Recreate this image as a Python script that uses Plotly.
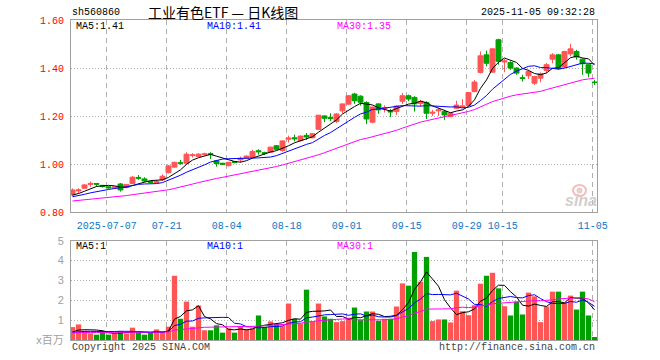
import plotly.graph_objects as go
import pandas as pd

# ---------------- data ----------------
tick_idx = [6, 16, 26, 36, 46, 56, 66, 72, 87]
tick_labels = ["2025-07-07", "07-21", "08-04", "08-18", "09-01", "09-15", "09-29", "10-15", "11-05"]

# closes before the visible window (inferred from where the MA lines start)
prior_close = [0.826, 0.829, 0.831, 0.830, 0.833, 0.835, 0.834, 0.836, 0.838, 0.837,
               0.839, 0.841, 0.840, 0.842, 0.844, 0.843, 0.845, 0.847, 0.846, 0.848,
               0.852, 0.855, 0.858, 0.860, 0.862, 0.864, 0.866, 0.868, 0.870]
prior_vol = [0.38, 0.32, 0.41, 0.29, 0.35, 0.44, 0.31, 0.36, 0.33, 0.40,
             0.30, 0.37, 0.34, 0.42, 0.31, 0.35, 0.39, 0.28, 0.36, 0.33,
             0.41, 0.34, 0.30, 0.38, 0.35, 0.32, 0.37, 0.33, 0.36]

opens = [0.872, 0.889, 0.900, 0.916, 0.920, 0.912, 0.906, 0.901, 0.918, 0.903,
         0.920, 0.945, 0.939, 0.928, 0.924, 0.935, 0.965, 0.988, 1.006, 1.004,
         1.036, 1.032, 1.040, 1.044, 1.014, 1.004, 0.994, 1.010, 1.018, 1.026,
         1.028, 1.056, 1.048, 1.050, 1.077, 1.057, 1.104, 1.110, 1.098, 1.120,
         1.110, 1.145, 1.201, 1.194, 1.178, 1.222, 1.250, 1.292, 1.283, 1.257,
         1.175, 1.251, 1.230, 1.222, 1.219, 1.262, 1.285, 1.278, 1.253, 1.257,
         1.212, 1.222, 1.219, 1.198, 1.233, 1.238, 1.244, 1.302, 1.382, 1.455,
         1.383, 1.518, 1.425, 1.423, 1.400, 1.360, 1.368, 1.337, 1.358, 1.390,
         1.437, 1.455, 1.404, 1.459, 1.469, 1.437, 1.414, 1.342]
highs = [0.899, 0.900, 0.918, 0.928, 0.921, 0.914, 0.908, 0.908, 0.922, 0.918,
         0.951, 0.955, 0.946, 0.932, 0.935, 0.958, 0.997, 1.010, 1.018, 1.050,
         1.046, 1.046, 1.048, 1.050, 1.018, 1.006, 1.010, 1.012, 1.032, 1.036,
         1.060, 1.062, 1.052, 1.073, 1.080, 1.099, 1.119, 1.123, 1.120, 1.130,
         1.130, 1.205, 1.203, 1.212, 1.212, 1.252, 1.287, 1.297, 1.287, 1.262,
         1.240, 1.253, 1.245, 1.230, 1.246, 1.296, 1.290, 1.283, 1.268, 1.262,
         1.226, 1.235, 1.226, 1.216, 1.264, 1.271, 1.300, 1.350, 1.469, 1.473,
         1.482, 1.522, 1.438, 1.428, 1.403, 1.372, 1.393, 1.368, 1.382, 1.421,
         1.462, 1.458, 1.472, 1.501, 1.476, 1.440, 1.418, 1.351]
lows = [0.866, 0.878, 0.898, 0.906, 0.906, 0.903, 0.898, 0.897, 0.886, 0.900,
        0.917, 0.935, 0.925, 0.921, 0.920, 0.930, 0.962, 0.985, 0.998, 1.000,
        1.028, 1.030, 1.036, 1.022, 0.990, 0.998, 0.991, 1.004, 1.006, 1.024,
        1.025, 1.040, 1.038, 1.048, 1.058, 1.052, 1.090, 1.095, 1.095, 1.101,
        1.108, 1.142, 1.175, 1.180, 1.172, 1.212, 1.247, 1.251, 1.244, 1.167,
        1.170, 1.210, 1.215, 1.196, 1.205, 1.251, 1.262, 1.219, 1.240, 1.188,
        1.201, 1.201, 1.185, 1.196, 1.230, 1.236, 1.240, 1.300, 1.378, 1.407,
        1.381, 1.414, 1.383, 1.393, 1.372, 1.344, 1.355, 1.330, 1.341, 1.379,
        1.420, 1.393, 1.400, 1.449, 1.435, 1.372, 1.362, 1.330]
closes = [0.893, 0.893, 0.914, 0.920, 0.917, 0.907, 0.902, 0.905, 0.893, 0.916,
          0.946, 0.942, 0.930, 0.925, 0.928, 0.950, 0.993, 1.008, 1.004, 1.042,
          1.039, 1.042, 1.043, 1.040, 1.003, 1.000, 1.008, 1.007, 1.025, 1.034,
          1.053, 1.052, 1.045, 1.071, 1.062, 1.097, 1.109, 1.106, 1.117, 1.113,
          1.127, 1.204, 1.191, 1.190, 1.209, 1.251, 1.285, 1.264, 1.258, 1.188,
          1.238, 1.226, 1.235, 1.218, 1.242, 1.285, 1.271, 1.251, 1.262, 1.212,
          1.216, 1.226, 1.205, 1.212, 1.246, 1.242, 1.298, 1.342, 1.451, 1.420,
          1.480, 1.428, 1.430, 1.400, 1.379, 1.357, 1.386, 1.365, 1.376, 1.414,
          1.455, 1.397, 1.469, 1.480, 1.446, 1.418, 1.379, 1.340]
# volume, in millions
volumes = [0.65, 0.785, 0.47, 0.335, 0.27, 0.47, 0.27, 0.335, 0.45, 0.33,
           0.62, 0.37, 0.27, 0.37, 0.535, 0.435, 0.67, 3.235, 1.07, 1.935,
           0.67, 1.735, 0.49, 0.49, 0.74, 0.37, 0.585, 0.37, 0.70, 0.535,
           0.585, 1.235, 0.67, 0.935, 0.80, 0.70, 1.835, 1.07, 0.835, 2.535,
           0.935, 1.835, 1.185, 1.07, 0.90, 0.95, 1.12, 1.635, 1.00, 1.435,
           1.435, 0.965, 1.07, 1.07, 1.685, 2.85, 2.735, 4.435, 2.935, 4.185,
           0.95, 1.035, 1.035, 0.885, 2.485, 1.45, 1.25, 1.75, 2.835, 3.235,
           3.385, 2.60, 1.70, 1.235, 1.935, 1.285, 2.385, 2.20, 0.90, 1.685,
           2.435, 2.435, 1.90, 2.235, 1.535, 2.435, 1.235, 0.15]

price_ticks = [0.8, 1.0, 1.2, 1.4, 1.6]
vol_ticks = [0, 1, 2, 3, 4, 5]
vol_tick_text = ["x百万", "1", "2", "3", "4", "5"]

# ---------------- derived ----------------
n = len(closes)
idx = list(range(n))
allc = pd.Series(prior_close + closes)
allv = pd.Series(prior_vol + volumes)
np_ = len(prior_close)
ma5 = allc.rolling(5).mean().iloc[np_:].tolist()
ma10 = allc.rolling(10).mean().iloc[np_:].tolist()
ma30 = allc.rolling(30).mean().iloc[np_:].tolist()
vma5 = allv.rolling(5).mean().iloc[np_:].tolist()
vma10 = allv.rolling(10).mean().iloc[np_:].tolist()
vma30 = allv.rolling(30).mean().iloc[np_:].tolist()

RED = "#ff5555"
GREEN = "#00a000"
vol_colors = [RED if c >= o else GREEN for o, c in zip(opens, closes)]

# body margin is removed by a post script, so figure pixels == screen pixels
W, H = 660, 360
L = 71
T = 20
B = H - 340
R = W - 597
PW, PH = W - L - R, H - T - B


def pxx(x):
    return (x - L) / PW


def pyy(y):
    return (H - B - y) / PH


fig = go.Figure()
fig.add_trace(go.Candlestick(
    x=idx, open=opens, high=highs, low=lows, close=closes,
    increasing=dict(line=dict(color=RED, width=1), fillcolor=RED),
    decreasing=dict(line=dict(color=GREEN, width=1), fillcolor=GREEN),
    whiskerwidth=0, xaxis="x", yaxis="y", showlegend=False, hoverinfo="skip"))
for ser, col in [(ma5, "#000000"), (ma10, "#0000ff"), (ma30, "#ff00ff")]:
    fig.add_trace(go.Scatter(x=idx, y=ser, mode="lines", line=dict(color=col, width=1),
                             xaxis="x", yaxis="y", showlegend=False, hoverinfo="skip"))

fig.add_trace(go.Bar(x=idx, y=volumes, marker=dict(color=vol_colors, line=dict(width=0)),
                     width=0.88, xaxis="x2", yaxis="y2", showlegend=False, hoverinfo="skip"))
for ser, col in [(vma5, "#000000"), (vma10, "#0000ff"), (vma30, "#ff00ff")]:
    fig.add_trace(go.Scatter(x=idx, y=ser, mode="lines", line=dict(color=col, width=1),
                             xaxis="x2", yaxis="y2", showlegend=False, hoverinfo="skip"))

grid_x = [i - 0.3 for i in tick_idx]
xr = [-0.25, -0.25 + PW / 6.0]
mono = "Liberation Mono, DejaVu Sans Mono, monospace"

common_x = dict(range=xr, tickvals=grid_x, showgrid=True, gridcolor="#b0b0b0",
                griddash="5px,4px", gridwidth=1, showline=True, mirror=True,
                linecolor="#a0a0a0", linewidth=1, zeroline=False, ticks="",
                fixedrange=True, automargin=False)
fig.update_layout(
    width=W, height=H, margin=dict(l=L, r=R, t=T, b=B, autoexpand=False),
    paper_bgcolor="white", plot_bgcolor="white",
    boxgap=0.18, boxgroupgap=0, bargap=0.12,
    xaxis=dict(**common_x, domain=[0, 1], anchor="y", ticktext=tick_labels,
               tickfont=dict(family=mono, size=10, color="#0a78c8"),
               ticklabelstandoff=4, rangeslider=dict(visible=False)),
    xaxis2=dict(**common_x, domain=[0, 1], anchor="y2", matches="x", showticklabels=False),
    yaxis=dict(domain=[pyy(212.3), 1.0], range=[0.8, 1.6], tickvals=price_ticks,
               tickformat=".2f", showgrid=True, gridcolor="#b0b0b0", griddash="1px,2px",
               showline=True, mirror=True, linecolor="#a0a0a0", zeroline=False,
               ticks="", tickfont=dict(family=mono, size=10, color="#ff0000"),
               ticklabelstandoff=4, fixedrange=True, automargin=False),
    yaxis2=dict(domain=[0, pyy(240.7)], range=[0, 5], tickvals=vol_ticks,
                ticktext=vol_tick_text, showgrid=True, gridcolor="#b0b0b0",
                griddash="1px,2px", showline=True, mirror=True, linecolor="#a0a0a0",
                zeroline=False, ticks="",
                tickfont=dict(family="Liberation Sans, Noto Sans CJK SC", size=11, color="#a0a0a0"),
                ticklabelstandoff=4, fixedrange=True, automargin=False),
)

anns = [
    dict(text="sh560860", x=pxx(70), y=pyy(12), xanchor="left",
         font=dict(family=mono, size=10, color="#000")),
    dict(text="工业有色ETF — 日K线图", x=pxx(223), y=pyy(12), xanchor="center",
         font=dict(family="Noto Sans CJK SC", size=14, color="#000")),
    dict(text="2025-11-05 09:32:28", x=pxx(597), y=pyy(12), xanchor="right",
         font=dict(family=mono, size=10, color="#000")),
    dict(text="MA5:1.41", x=pxx(74), y=pyy(27), xanchor="left",
         font=dict(family=mono, size=10, color="#000")),
    dict(text="MA10:1.41", x=pxx(205), y=pyy(27), xanchor="left",
         font=dict(family=mono, size=10, color="#0000ff")),
    dict(text="MA30:1.35", x=pxx(335), y=pyy(27), xanchor="left",
         font=dict(family=mono, size=10, color="#ff00ff")),
    dict(text="MA5:1", x=pxx(74), y=pyy(246), xanchor="left",
         font=dict(family=mono, size=10, color="#000")),
    dict(text="MA10:1", x=pxx(205), y=pyy(246), xanchor="left",
         font=dict(family=mono, size=10, color="#0000ff")),
    dict(text="MA30:1", x=pxx(335), y=pyy(246), xanchor="left",
         font=dict(family=mono, size=10, color="#ff00ff")),
    dict(text="Copyright 2025 SINA.COM", x=pxx(70), y=pyy(347), xanchor="left",
         font=dict(family=mono, size=10, color="#444")),
    dict(text="http://finance.sina.com.cn", x=pxx(597), y=pyy(347), xanchor="right",
         font=dict(family=mono, size=10, color="#444")),
    dict(text="<b><i>sina</i></b>", x=pxx(581), y=pyy(200), xanchor="center",
         font=dict(family="Liberation Sans", size=16, color="#cfcfcf")),
]
for a in anns:
    a.update(xref="paper", yref="paper", yanchor="middle", showarrow=False)
fig.update_layout(annotations=anns)

# sina eye logo (watermark)
fig.add_shape(type="circle", xref="paper", yref="paper",
              x0=pxx(573), x1=pxx(586), y0=pyy(196), y1=pyy(185),
              line=dict(color="#f4bcbc", width=2), fillcolor="rgba(0,0,0,0)")
fig.add_shape(type="circle", xref="paper", yref="paper",
              x0=pxx(577), x1=pxx(582), y0=pyy(193), y1=pyy(188),
              line=dict(color="#f4bcbc", width=1), fillcolor="#d8d8d8")

fig.write_html("out.html", config={"displayModeBar": False},
               post_script="document.body.style.margin='0px';")
